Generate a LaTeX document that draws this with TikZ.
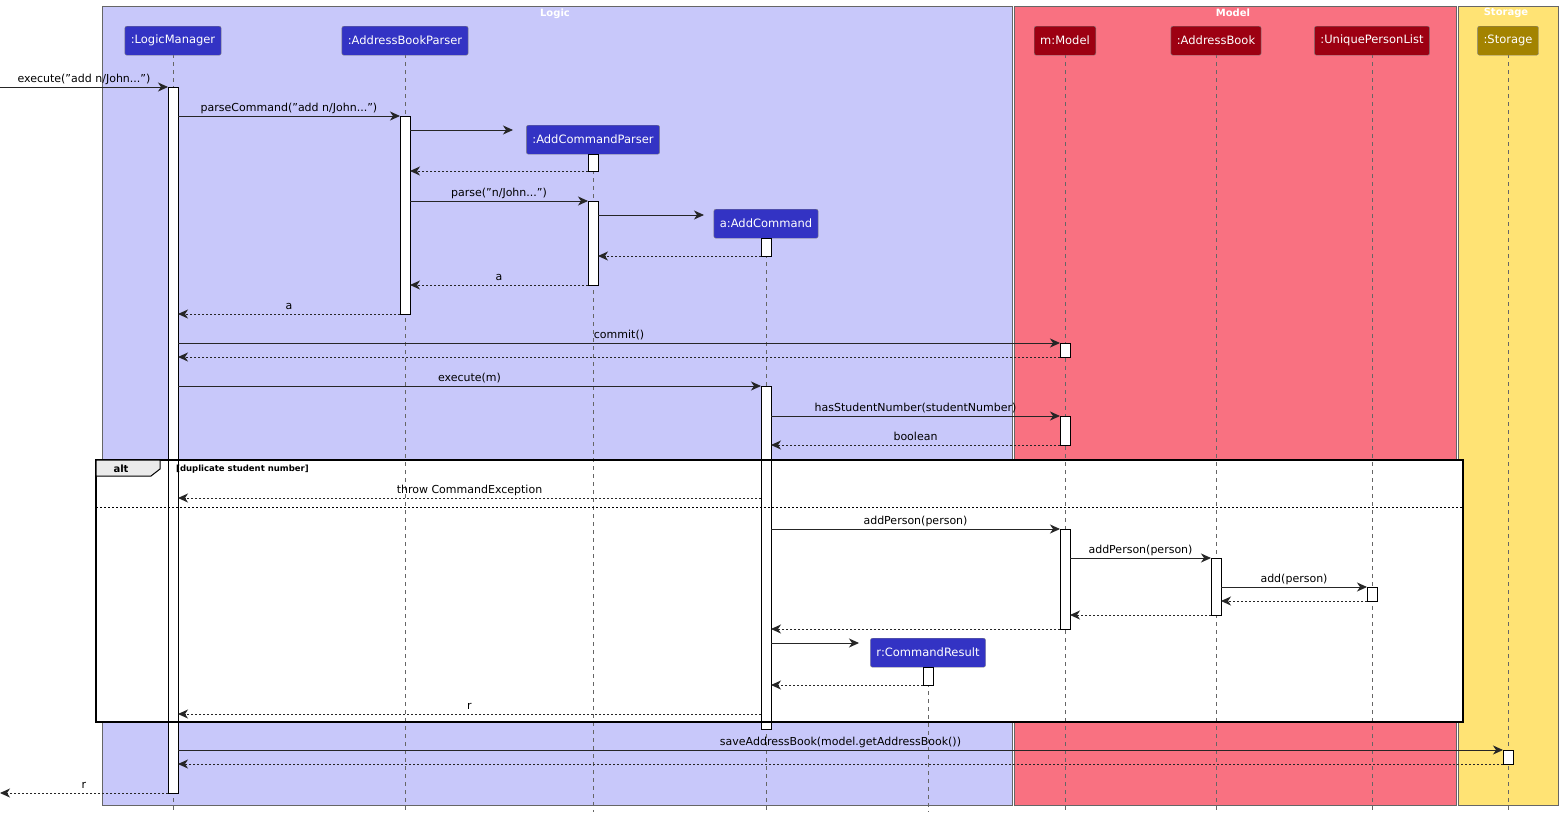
\documentclass[tikz,border=0pt]{standalone}
\usepackage{fontspec}
\setmainfont{DejaVu Sans}
\usetikzlibrary{arrows.meta}
\definecolor{logicbg}{HTML}{C8C8FA}
\definecolor{logicfg}{HTML}{3333C4}
\definecolor{modelbg}{HTML}{F97181}
\definecolor{modelfg}{HTML}{9D0012}
\definecolor{storebg}{HTML}{FFE374}
\definecolor{storefg}{HTML}{A38300}
\tikzset{
  grp/.style={draw=gray!80!black, line width=0.8pt},
  grptitle/.style={text=white, font=\bfseries\fontsize{10}{12}\selectfont, anchor=north},
  part/.style={rounded corners=2pt, draw=black!50, text=white, minimum height=29pt, inner xsep=6pt, anchor=north, font=\fontsize{11.5}{13}\selectfont},
  life/.style={draw=black!60, dash pattern=on 4pt off 4pt, line width=0.6pt},
  act/.style={draw=black, fill=white, line width=0.8pt},
  call/.style={draw=black!85, line width=0.9pt, -{Stealth[length=10pt,width=9pt,inset=3pt]}},
  ret/.style={call, dash pattern=on 2pt off 2pt},
  lbl/.style={font=\fontsize{11}{13}\selectfont, anchor=base, text=black}
}
\newcommand{\msg}[5][call]{%
  \draw[#1] (#3,#2) -- (#4,#2);
  \node[lbl] at ({(#3+#4)/2},#2-5) {#5};}
\begin{document}
\begin{tikzpicture}[x=1pt,y=-1pt]
\useasboundingbox (0,0) rectangle (1564,817);
% groups
\fill[logicbg] (102,6) rectangle (1012,805);
\draw[grp] (102,6) rectangle (1012,805);
\fill[modelbg] (1014,6) rectangle (1456,805);
\draw[grp] (1014,6) rectangle (1456,805);
\fill[storebg] (1458,6) rectangle (1558,805);
\draw[grp] (1458,6) rectangle (1558,805);
\node[grptitle] (tlogic) at (555,5) {Logic};
\node[grptitle] (tmodel) at (1233,5) {Model};
\node[grptitle] (tstore) at (1506,5) {Storage};
% alt frame background
\fill[white] (96,460) rectangle (1463,722);
% lifelines
\foreach \x/\top in {173/54,405/54,593/154,766/238,1065/54,1216/54,1372/54,1508/54,928/667}
  \draw[life] (\x,\top) -- (\x,812);
% participants
\node[part, fill=logicfg] (lm) at (173,26) {:LogicManager};
\node[part, fill=logicfg] (abp) at (405,26) {:AddressBookParser};
\node[part, fill=logicfg] (acp) at (593,125) {:AddCommandParser};
\node[part, fill=logicfg] (ac) at (766,209) {a:AddCommand};
\node[part, fill=logicfg] (cr) at (928,638) {r:CommandResult};
\node[part, fill=modelfg] (mm) at (1065,26) {m:Model};
\node[part, fill=modelfg] (ab) at (1216,26) {:AddressBook};
\node[part, fill=modelfg] (upl) at (1372,26) {:UniquePersonList};
\node[part, fill=storefg] (st) at (1508,26) {:Storage};
% activations
\foreach \x/\a/\b in {173/87/793,405/116/314,593/154/171,593/201/285,766/238/256,766/386/729,
  1065/343/357,1065/416/445,1065/529/629,1216/558/615,1372/587/601,928/667/685,1508/750/764}
  \draw[act] (\x-5,\a) rectangle (\x+5,\b);
% messages
\draw[call] (0,87) -- (168,87);
\node[lbl] at (84,82) {execute("add n/John...")};
\msg{116}{178}{400}{parseCommand("add n/John...")}
\msg{130}{410}{513}{}
\msg[ret]{171}{588}{410}{}
\msg{201}{410}{588}{parse("n/John...")}
\msg{215}{598}{704}{}
\msg[ret]{256}{761}{598}{}
\msg[ret]{285}{588}{410}{a}
\msg[ret]{314}{400}{178}{a}
\msg{343}{178}{1060}{commit()}
\msg[ret]{357}{1060}{178}{}
\msg{386}{178}{761}{execute(m)}
\msg{416}{771}{1060}{hasStudentNumber(studentNumber)}
\msg[ret]{445}{1060}{771}{boolean}
\msg[ret]{498}{761}{178}{throw CommandException}
\msg{529}{771}{1060}{addPerson(person)}
\msg{558}{1070}{1211}{addPerson(person)}
\msg{587}{1221}{1367}{add(person)}
\msg[ret]{601}{1367}{1221}{}
\msg[ret]{615}{1211}{1070}{}
\msg[ret]{629}{1060}{771}{}
\msg{643}{771}{859}{}
\msg[ret]{685}{923}{771}{}
\msg[ret]{714}{761}{178}{r}
\msg{750}{178}{1503}{saveAddressBook(model.getAddressBook())}
\msg[ret]{764}{1503}{178}{}
\msg[ret]{793}{168}{0}{r}
% alt frame
\draw[black, line width=1.5pt] (96,460) rectangle (1463,722);
\draw[black, fill=black!8, line width=1pt] (96,460) -- (160,460) -- (160,469) -- (151,476) -- (96,476) -- cycle;
\node[font=\bfseries\fontsize{10}{12}\selectfont, anchor=base] (alt) at (121,472) {alt};
\node[font=\bfseries\fontsize{8.5}{10}\selectfont, anchor=base west, inner xsep=0pt] (guard) at (176,471) {[duplicate student number]};
\draw[black, line width=0.8pt, dash pattern=on 2pt off 2pt] (96,507) -- (1463,507);
\end{tikzpicture}
\end{document}
